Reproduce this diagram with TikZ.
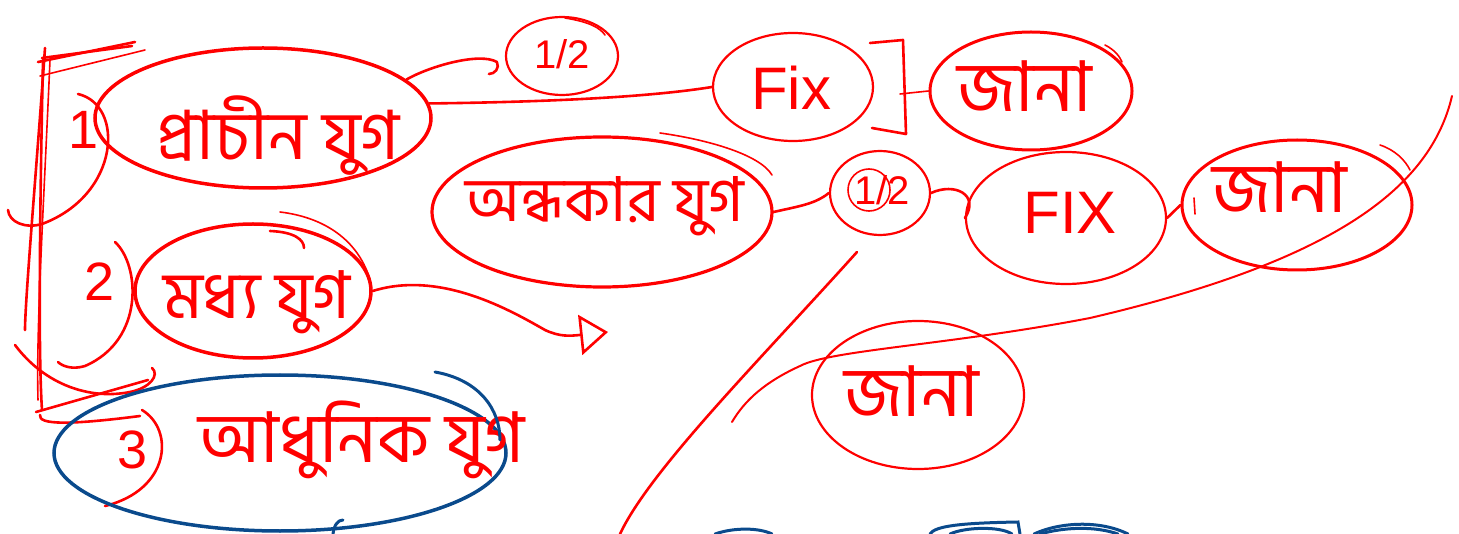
\documentclass[tikz,border=0pt]{standalone}
\usepackage{fontspec}
\setmainfont{Liberation Sans}
\newfontfamily\bn[Script=Bengali]{Hind Siliguri}
\usetikzlibrary{shapes.geometric,arrows.meta,calc}
\definecolor{pen}{HTML}{FF0000}
\definecolor{ink}{HTML}{0A4A8C}
% text placed inside a node without changing its size: #1 = 2*dx, #2 = baseline offset
\newcommand{\intxt}[3]{\smash{\raisebox{#2}{\makebox[0pt]{\hspace*{#1}#3}}}}
\tikzset{
  oval/.style={ellipse, draw=pen, line width=3pt, inner sep=0pt, text=pen},
  thinoval/.style={ellipse, draw=pen, line width=2.2pt, inner sep=0pt, text=pen},
  blueoval/.style={ellipse, draw=ink, line width=3.5pt, inner sep=0pt, text=pen},
  txt/.style={text=pen, inner sep=0pt},
  stroke/.style={draw=pen, line width=2.6pt, line cap=round, line join=round},
  hair/.style={draw=pen, line width=1.6pt, line cap=round, line join=round},
  bstroke/.style={draw=ink, line width=3pt, line cap=round},
  bn66/.style={font=\bn\fontsize{68}{72}\selectfont},
  bn64/.style={font=\bn\fontsize{66}{70}\selectfont},
  bn62/.style={font=\bn\fontsize{62}{68}\selectfont},
  bn70/.style={font=\bn\fontsize{70}{76}\selectfont},
  biglat/.style={font=\fontsize{60}{64}\selectfont},
  numlat/.style={font=\fontsize{54}{60}\selectfont},
  smlat/.style={font=\fontsize{40}{46}\selectfont}
}
\begin{document}
\begin{tikzpicture}[x=1pt,y=-1pt]
\useasboundingbox (0,0) rectangle (1459,534);

% ---------- left bracket ----------
\draw[stroke] (38,62) -- (135,42);
\draw[stroke] (42,58) -- (132,46);
\draw[hair] (40,76) -- (145,50);
\draw[stroke] (45,48) .. controls (38,150) and (25,300) .. (25,330);
\draw[stroke] (43,60) .. controls (40,200) and (38,350) .. (42,410);
\draw[hair] (50,60) .. controls (44,200) and (36,330) .. (38,400);
\draw[stroke] (36,412) -- (148,380);
\draw[stroke] (15,345) .. controls (45,385) and (90,400) .. (130,392) .. controls (150,388) and (160,375) .. (152,368);
\draw[stroke] (40,415) .. controls (38,425) and (70,425) .. (140,416);

% ---------- number labels with arcs ----------
\node[txt, numlat] (n1) at (84,130) {1};
\draw[stroke] (78,94) .. controls (125,105) and (120,195) .. (42,224) .. controls (25,229) and (9,222) .. (8,210);
\node[txt, numlat] (n2) at (100,282) {2};
\draw[stroke] (115,242) .. controls (140,265) and (145,340) .. (85,366) .. controls (72,370) and (62,366) .. (58,362);
\node[txt, numlat] (n3) at (133,450) {3};
\draw[stroke] (142,410) .. controls (175,430) and (170,490) .. (105,506);

% ---------- main ellipses ----------
\node[oval, line width=3.5pt, minimum width=336pt, minimum height=140pt, bn66] (e1) at (263,118) {\intxt{30pt}{-42pt}{প্রাচীন যুগ}};
\node[oval, line width=3.5pt, minimum width=236pt, minimum height=134pt, bn64] (e2) at (253,291) {\intxt{8pt}{-28pt}{মধ্য যুগ}};
\node[blueoval, minimum width=452pt, minimum height=156pt] (e3) at (280,453) {};
\node[txt, bn70, anchor=base] (t3) at (362,462) {আধুনিক যুগ};
\node[oval, line width=3.2pt, minimum width=340pt, minimum height=150pt, bn62] (andh) at (602,212) {\intxt{6pt}{-10pt}{অন্ধকার যুগ}};

\node[thinoval, minimum width=112pt, minimum height=78pt, smlat] (half1) at (562,56) {\intxt{0pt}{-13pt}{1/2}};
\node[thinoval, minimum width=160pt, minimum height=108pt, biglat] (fix) at (793,87) {\intxt{-4pt}{-23pt}{Fix}};
\node[oval, minimum width=202pt, minimum height=118pt, bn70] (jana1) at (1031,91) {\intxt{-12pt}{-21pt}{জানা}};

\node[thinoval, minimum width=100pt, minimum height=84pt] (half2) at (880,193) {};
\node[hair, circle, draw=pen, minimum size=42pt, inner sep=0pt] (c1) at (869,190) {};
\node[txt, smlat] (h2) at (882,190) {1/2};
\node[thinoval, minimum width=200pt, minimum height=132pt, biglat] (fix2) at (1066,218) {\intxt{8pt}{-16pt}{FIX}};
\node[oval, minimum width=230pt, minimum height=130pt, bn70] (jana2) at (1297,205) {\intxt{-34pt}{-8pt}{জানা}};
\node[thinoval, minimum width=212pt, minimum height=148pt, bn70] (jana3) at (918,395) {\intxt{-12pt}{-22pt}{জানা}};

% ---------- connectors ----------
\coordinate (hk) at ($(half1.west)+(-8,6)$);
\draw[stroke] (e1.15) .. controls (430,66) and (480,52) .. (hk) .. controls ($(hk)+(3,6)$) and ($(hk)+(-2,12)$) .. ($(hk)+(-8,12)$);
\draw[stroke] (e1.5) .. controls (550,102) and (650,97) .. (fix.west);
\coordinate (b1) at (870,43);
\coordinate (b2) at (903,40);
\coordinate (b3) at (906,134);
\coordinate (b4) at (872,128);
\draw[stroke] (b1) -- (b2) -- (b3) -- (b4);
\draw[hair] (900,94) -- (jana1.west);
\draw[stroke] (andh.east) .. controls (800,206) and (815,204) .. (half2.west);
\draw[stroke] (half2.east) .. controls (955,182) and (980,195) .. (fix2.west);
\draw[stroke] (fix2.east) -- (jana2.west);
\draw[hair] (1194,198) -- (1195,214);
\coordinate (tipend) at (608,332);
\draw[stroke, -{Triangle[open, length=28pt, width=40pt, line width=2.6pt]}] (e2.east) .. controls (440,270) and (510,310) .. (545,330) .. controls (560,337) and (570,336) .. (tipend);

% ---------- free strokes ----------
\coordinate (l1a) at (857,252);
\coordinate (l1b) at (620,534);
\draw[stroke] (l1a) .. controls (760,360) and (650,470) .. (l1b);
\coordinate (l2a) at (1452,96);
\coordinate (l2b) at (732,422);
\draw[hair, line width=2pt] (l2a) .. controls (1430,190) and (1330,262) .. (1090,318) .. controls (950,345) and (830,350) .. (800,366) .. controls (765,382) and (745,400) .. (l2b);

% ---------- overstrokes ----------
\draw[hair] (1105,45) .. controls (1115,50) and (1120,57) .. (1122,62);
\draw[hair] (660,133) .. controls (710,140) and (760,155) .. (772,175);
\draw[hair] (565,18) .. controls (590,22) and (600,28) .. (605,35);
\draw[hair] (1380,145) .. controls (1395,150) and (1405,160) .. (1410,170);
\draw[stroke] (270,231) .. controls (295,232) and (304,240) .. (304,248);
\draw[hair] (280,212) .. controls (330,218) and (360,245) .. (370,280);

% ---------- blue strokes ----------
\draw[bstroke] (435,372) .. controls (480,380) and (500,410) .. (500,440);
\draw[bstroke] (333,534) .. controls (334,525) and (338,520) .. (343,520);
\draw[bstroke] (715,534) .. controls (735,527) and (760,528) .. (772,534);
\draw[bstroke] (930,534) .. controls (935,526) and (960,523) .. (1018,522) -- (1020,534);
\draw[bstroke] (950,534) .. controls (965,527) and (1000,526) .. (1012,534);
\draw[bstroke] (1034,534) .. controls (1060,522) and (1100,520) .. (1128,534);
\draw[bstroke] (1040,534) .. controls (1065,527) and (1095,526) .. (1118,534);
\end{tikzpicture}
\end{document}
